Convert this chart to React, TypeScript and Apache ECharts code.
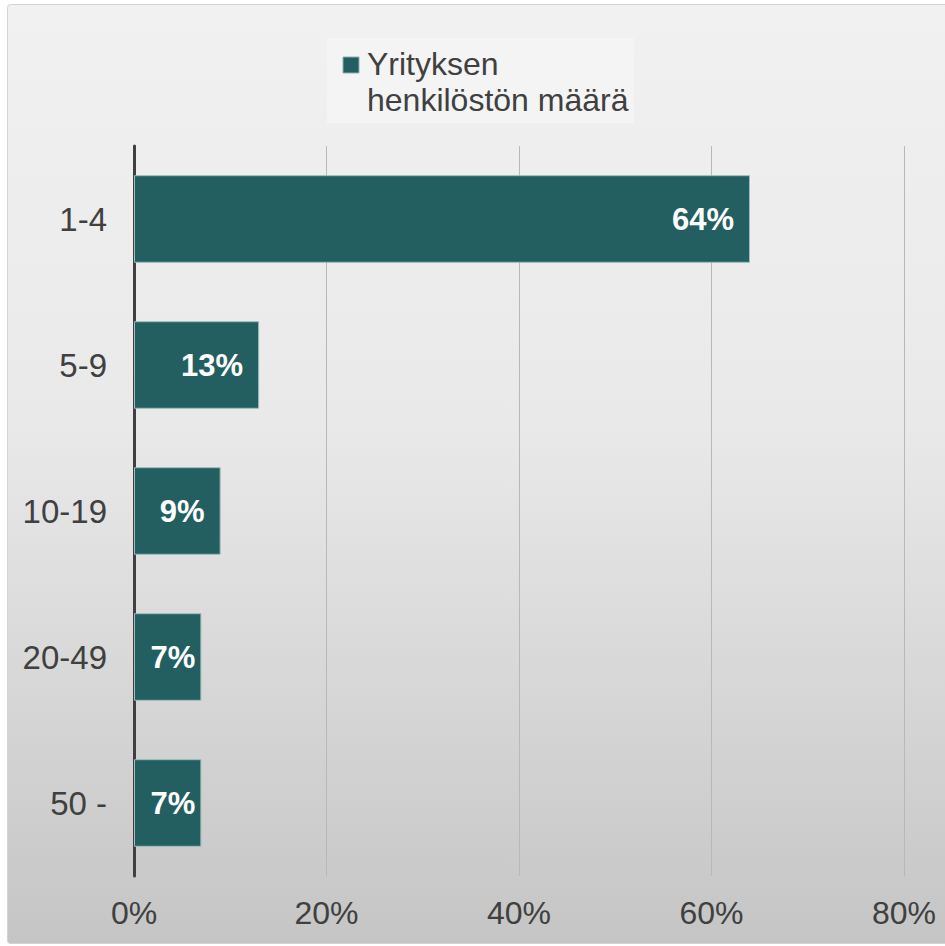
import React, { useEffect, useRef } from "react";
import * as echarts from "echarts";

const categories = ["1-4", "5-9", "10-19", "20-49", "50 -"];
const values = [0.64, 0.13, 0.09, 0.07, 0.07];
const seriesName = "Yrityksen\nhenkilöstön määrä";
const xTicks = [0, 0.2, 0.4, 0.6, 0.8];

const FONT = "'Liberation Sans', Arial, sans-serif";
const BAR = "#235f60";

export default function App() {
  const ref = useRef<HTMLDivElement>(null);
  useEffect(() => {
    if (!ref.current) return;
    const chart = echarts.init(ref.current, undefined, { renderer: "svg" });
    chart.setOption({
      animation: false,
      textStyle: { fontFamily: FONT },
      graphic: [
        {
          type: "rect",
          z: -10,
          silent: true,
          shape: { x: 7.5, y: 4.5, width: 945, height: 939, r: 3 },
          style: {
            fill: new echarts.graphic.LinearGradient(0, 0, 0, 1, [
              { offset: 0, color: "#f1f1f1" },
              { offset: 0.45, color: "#e9e9e9" },
              { offset: 1, color: "#c5c5c5" },
            ]),
            stroke: "#d3d3d3",
            lineWidth: 1,
          },
        },
        {
          type: "rect",
          z: -5,
          silent: true,
          shape: { x: 327, y: 38, width: 307, height: 85 },
          style: { fill: "rgba(246,246,246,0.75)" },
        },
        {
          type: "rect",
          z: 5,
          silent: true,
          shape: { x: 343, y: 57, width: 16, height: 16 },
          style: { fill: BAR, stroke: "#8fb0b0", lineWidth: 1 },
        },
        {
          type: "text",
          z: 5,
          silent: true,
          x: 367,
          y: 46,
          style: {
            text: seriesName,
            fontFamily: FONT,
            fontSize: 32,
            lineHeight: 36,
            fill: "#404040",
            verticalAlign: "top",
            align: "left",
          },
        },
      ],
      grid: { left: 134, right: 41, top: 146, bottom: 70, containLabel: false },
      xAxis: {
        type: "value",
        min: xTicks[0],
        max: xTicks[xTicks.length - 1],
        interval: 0.2,
        axisLine: { show: false },
        axisTick: { show: false },
        splitLine: { show: true, lineStyle: { color: "#b8b8b8", width: 1 } },
        axisLabel: {
          fontSize: 32,
          color: "#404040",
          margin: 21,
          fontFamily: FONT,
          formatter: (v: number) => Math.round(v * 100) + "%",
        },
      },
      yAxis: {
        type: "category",
        inverse: true,
        data: categories,
        axisLine: { show: true, onZero: false, lineStyle: { color: "#404040", width: 3 } },
        axisTick: { show: false },
        splitLine: { show: false },
        axisLabel: { fontSize: 33, color: "#404040", margin: 27, fontFamily: FONT },
      },
      series: [
        {
          type: "bar",
          name: seriesName,
          barWidth: "60%",
          data: values.map((v) => ({
            value: v,
            label: { distance: v < 0.08 ? 6 : 16 },
          })),
          itemStyle: { color: BAR, borderColor: "#9dbcbc", borderWidth: 1 },
          label: {
            show: true,
            position: "insideRight",
            color: "#ffffff",
            fontWeight: "bold",
            fontSize: 31,
            fontFamily: FONT,
            formatter: (p: any) => Math.round(p.value * 100) + "%",
          },
        },
      ],
    });
    return () => chart.dispose();
  }, []);
  return (
    <div
      ref={ref}
      style={{ position: "absolute", left: 0, top: 0, width: 945, height: 946 }}
    />
  );
}
